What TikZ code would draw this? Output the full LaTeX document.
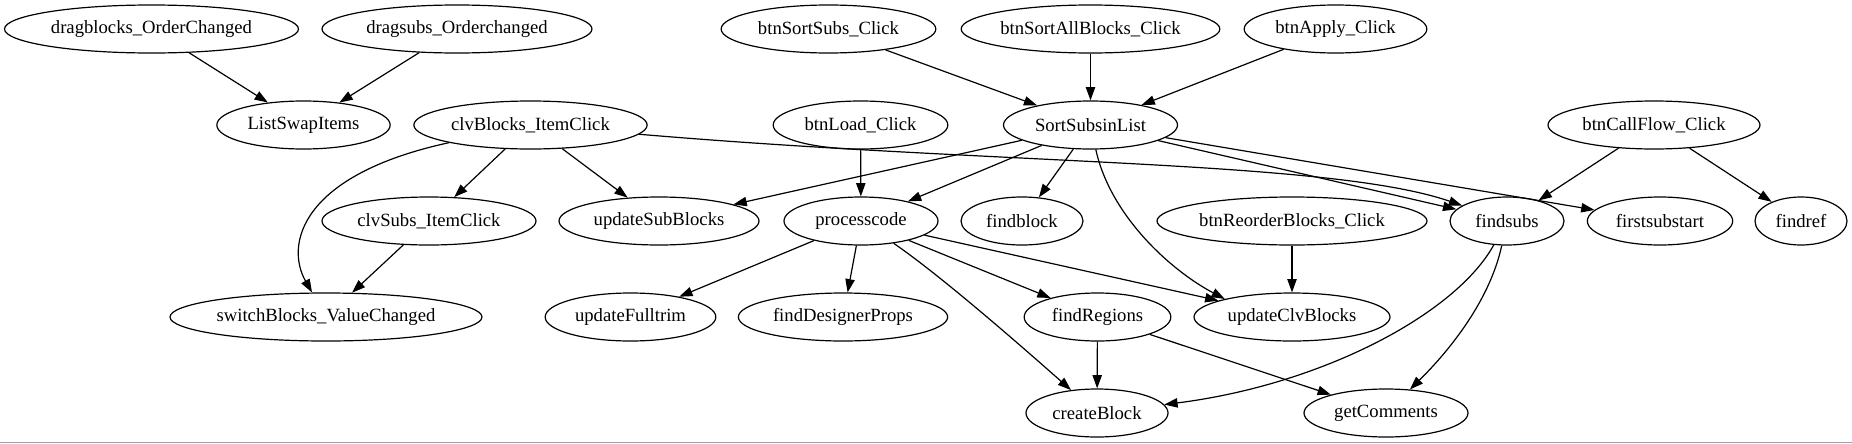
\documentclass[tikz,border=0pt]{standalone}
\usepackage{fontspec}
\setmainfont{Liberation Serif}
\usetikzlibrary{arrows.meta,shapes.geometric}
\definecolor{shotline}{RGB}{160,160,160}

\begin{document}
\begin{tikzpicture}[x=0.75pt, y=-0.75pt]
            \tikzstyle{func}=[shape=ellipse, draw=black, line width=0.9pt, minimum height=36pt, inner sep=0pt, font=\fontsize{14pt}{16pt}\selectfont];
            \tikzstyle{call}=[-{Triangle[length=10pt,width=7pt]}, line width=0.9pt];

            \useasboundingbox (0,0) rectangle (1852,443);

            \node[func, minimum width=220.5pt](DragB) at (151.5,29) {dragblocks\_OrderChanged};
            \node[func, minimum width=202.5pt](DragS) at (457,29) {dragsubs\_Orderchanged};
            \node[func, minimum width=161pt](SortS) at (828.5,29) {btnSortSubs\_Click};
            \node[func, minimum width=194pt](SortAll) at (1090.5,29) {btnSortAllBlocks\_Click};
            \node[func, minimum width=137pt](Apply) at (1335.5,29) {btnApply\_Click};

            \node[func, minimum width=130pt](Swap) at (303.5,125) {ListSwapItems};
            \node[func, minimum width=175pt](ClvB) at (530.5,125) {clvBlocks\_ItemClick};
            \node[func, minimum width=131pt](Load) at (860.5,125) {btnLoad\_Click};
            \node[func, minimum width=130.5pt](SSL) at (1090.5,125) {SortSubsinList};
            \node[func, minimum width=159pt](CallF) at (1654,125) {btnCallFlow\_Click};

            \node[func, minimum width=160.5pt](ClvS) at (429,221) {clvSubs\_ItemClick};
            \node[func, minimum width=150pt](USB) at (659,221) {updateSubBlocks};
            \node[func, minimum width=115.5pt](PC) at (861,221) {processcode};
            \node[func, minimum width=91.5pt](FB) at (1022,221) {findblock};
            \node[func, minimum width=202.5pt](Reord) at (1292,221) {btnReorderBlocks\_Click};
            \node[func, minimum width=85.5pt](FS) at (1507,221) {findsubs};
            \node[func, minimum width=109pt](FSS) at (1660,221) {firstsubstart};
            \node[func, minimum width=69pt](FR) at (1801,221) {findref};

            \node[func, minimum width=234pt](SBV) at (326,317) {switchBlocks\_ValueChanged};
            \node[func, minimum width=128pt](UFT) at (630.5,317) {updateFulltrim};
            \node[func, minimum width=157pt](FDP) at (843,317) {findDesignerProps};
            \node[func, minimum width=110pt](FReg) at (1097.5,317) {findRegions};
            \node[func, minimum width=147pt](UCB) at (1292,317) {updateClvBlocks};

            \node[func, minimum width=106.5pt](CB) at (1097,413) {createBlock};
            \node[func, minimum width=123pt](GC) at (1386,413) {getComments};

            \draw[call]
                (DragB) edge (Swap)
                (DragS) edge (Swap)
                (SortS) edge (SSL)
                (SortAll) edge (SSL)
                (Apply) edge (SSL)
            ;

            \draw[call]
                (ClvB) edge (ClvS)
                (ClvB) edge (USB)
                (ClvS) edge (SBV)
                (Load) edge (PC)
            ;

            \draw[call]
                (SSL) edge (USB)
                (SSL) edge (PC)
                (SSL) edge (FB)
                (SSL) edge (FS)
                (SSL) edge (FSS)
                (CallF) edge (FS)
                (CallF) edge (FR)
            ;

            \draw[call]
                (PC) edge (UFT)
                (PC) edge (FDP)
                (PC) edge (FReg)
                (PC) edge (UCB)
                (Reord) edge (UCB)
                (FReg) edge (CB)
                (FReg) edge (GC)
            ;

            \draw[call] (ClvB) .. controls (300,175) and (285,245) .. (SBV);
            \draw[call] (ClvB) .. controls (1000,165) and (1330,160) .. (FS);
            \draw[call] (SSL) .. controls (1110,215) and (1170,270) .. (UCB.165);
            \draw[call] (PC) .. controls (940,275) and (1020,345) .. (CB);
            \draw[call] (FS) .. controls (1455,315) and (1320,385) .. (CB);
            \draw[call] (FS) .. controls (1490,300) and (1450,350) .. (GC);

            \draw[shotline, line width=1.2pt] (0,442.3) -- (1852,442.3);
        \end{tikzpicture}
\end{document}
